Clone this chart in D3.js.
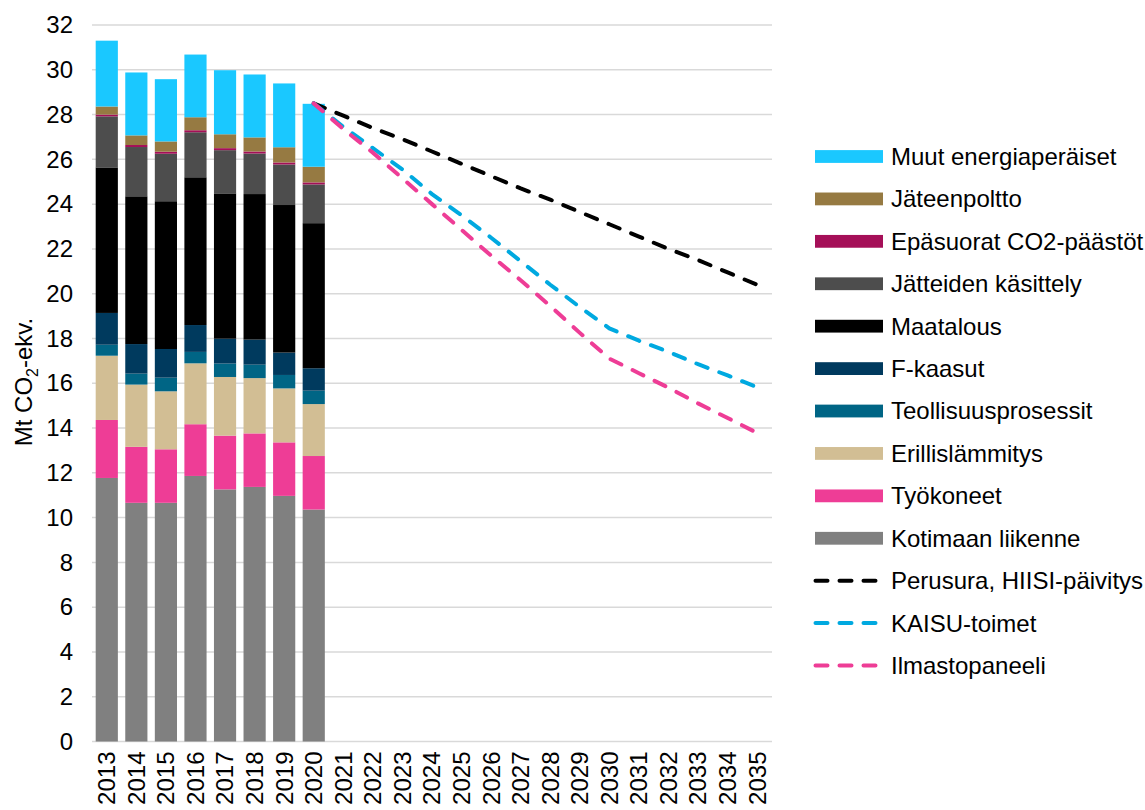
<!DOCTYPE html>
<html>
<head>
<meta charset="utf-8">
<script src="https://cdn.jsdelivr.net/npm/d3@7"></script>
<style>
  html, body { margin: 0; padding: 0; background: #fff; overflow: hidden; }
  svg { display: block; }
  text { font-family: "Liberation Sans", Arial, sans-serif; fill: #000; }
</style>
</head>
<body>
<div id="chart"></div>
<script>
// categories on the x axis
const years = ["2013","2014","2015","2016","2017","2018","2019","2020","2021","2022","2023",
  "2024","2025","2026","2027","2028","2029","2030","2031","2032","2033","2034","2035"];
const histYears = ["2013","2014","2015","2016","2017","2018","2019","2020"];
const scenYears = ["2020","2021","2022","2023","2024","2025","2026","2027","2028","2029","2030",
  "2031","2032","2033","2034","2035"];

// stacked sectors, bottom to top (Mt CO2-ekv.)
const kotimaanLiikenne = [11.77, 10.66, 10.66, 11.86, 11.26, 11.37, 10.97, 10.36];
const tyokoneet        = [2.59, 2.50, 2.39, 2.31, 2.40, 2.39, 2.39, 2.39];
const erillislammitys  = [2.87, 2.78, 2.59, 2.72, 2.62, 2.47, 2.41, 2.32];
const teollisuus       = [0.49, 0.49, 0.61, 0.51, 0.60, 0.60, 0.60, 0.60];
const fKaasut          = [1.42, 1.32, 1.28, 1.20, 1.11, 1.12, 1.00, 1.00];
const maatalous        = [6.50, 6.60, 6.60, 6.60, 6.49, 6.50, 6.59, 6.48];
const jatteidenKas     = [2.28, 2.20, 2.12, 2.01, 1.93, 1.81, 1.81, 1.73];
const epasuorat        = [0.08, 0.09, 0.09, 0.09, 0.09, 0.09, 0.09, 0.09];
const jateenpoltto     = [0.36, 0.43, 0.46, 0.58, 0.62, 0.63, 0.68, 0.70];
const muutEnergia      = [2.94, 2.81, 2.78, 2.80, 2.86, 2.81, 2.85, 2.81];

// scenario lines 2020-2035
const perusura      = [28.5, 27.95, 27.4, 26.9, 26.35, 25.8, 25.25, 24.7, 24.2, 23.65, 23.1, 22.55, 22.0, 21.5, 20.95, 20.4];
const kaisuToimet   = [28.5, 27.45, 26.5, 25.55, 24.45, 23.5, 22.5, 21.45, 20.4, 19.4, 18.45, 17.9, 17.4, 16.85, 16.35, 15.82];
const ilmastopaneeli= [28.5, 27.35, 26.3, 25.15, 24.0, 22.85, 21.7, 20.6, 19.45, 18.25, 17.1, 16.45, 15.8, 15.1, 14.45, 13.78];

const yTicks = d3.range(0, 33, 2);

const sectors = [
  { id: "liikenne",  name: "Kotimaan liikenne",     values: kotimaanLiikenne, color: "#808080" },
  { id: "tyokoneet", name: "Työkoneet",             values: tyokoneet,        color: "#EE3D96" },
  { id: "erillis",   name: "Erillislämmitys",       values: erillislammitys,  color: "#D2BE94" },
  { id: "teoll",     name: "Teollisuusprosessit",   values: teollisuus,       color: "#006585" },
  { id: "fkaasut",   name: "F-kaasut",              values: fKaasut,          color: "#003A5E" },
  { id: "maatalous", name: "Maatalous",             values: maatalous,        color: "#000000" },
  { id: "jatteet",   name: "Jätteiden käsittely",   values: jatteidenKas,     color: "#4D4D4D" },
  { id: "epasuorat", name: "Epäsuorat CO2-päästöt", values: epasuorat,        color: "#A50F58" },
  { id: "poltto",    name: "Jäteenpoltto",          values: jateenpoltto,     color: "#967A42" },
  { id: "muut",      name: "Muut energiaperäiset",  values: muutEnergia,      color: "#1AC8FF" }
];
const scenarios = [
  { name: "Perusura, HIISI-päivitys", values: perusura,       color: "#000000" },
  { name: "KAISU-toimet",             values: kaisuToimet,    color: "#00A9E0" },
  { name: "Ilmastopaneeli",           values: ilmastopaneeli, color: "#EE3D96" }
];

const width = 1145, height = 810;
const margin = { top: 25, right: 373, bottom: 68.5, left: 92 };
const innerWidth = width - margin.left - margin.right;
const innerHeight = height - margin.top - margin.bottom;
const fontSize = 24;

const svg = d3.select("#chart")
  .append("svg")
    .attr("width", width)
    .attr("height", height)
    .attr("viewBox", [0, 0, width, height]);

const innerChart = svg.append("g")
  .attr("transform", `translate(${margin.left}, ${margin.top})`);

/*    scales    */
const xScale = d3.scaleBand()
  .domain(years)
  .range([0, innerWidth])
  .paddingInner(0.25)
  .paddingOuter(0.125);

const yScale = d3.scaleLinear()
  .domain([0, 32])
  .range([innerHeight, 0]);

/*    gridlines + axes    */
innerChart.append("g")
  .selectAll("line")
  .data(yTicks)
  .join("line")
    .attr("x1", 0)
    .attr("x2", innerWidth)
    .attr("y1", d => yScale(d))
    .attr("y2", d => yScale(d))
    .attr("stroke", "#d9d9d9")
    .attr("stroke-width", 1.5);

const yAxis = d3.axisLeft(yScale).tickValues(yTicks).tickSize(0).tickPadding(19);
innerChart.append("g")
  .call(yAxis)
  .call(g => g.select(".domain").remove())
  .selectAll("text")
    .attr("font-size", fontSize)
    .attr("font-family", "Liberation Sans, Arial, sans-serif")
    .attr("fill", "#000");

const xAxis = d3.axisBottom(xScale).tickSize(0);
innerChart.append("g")
  .attr("transform", `translate(0, ${innerHeight})`)
  .call(xAxis)
  .call(g => g.select(".domain").remove())
  .selectAll("text")
    .attr("font-size", fontSize)
    .attr("font-family", "Liberation Sans, Arial, sans-serif")
    .attr("fill", "#000")
    .attr("text-anchor", "end")
    .attr("transform", "rotate(-90)")
    .attr("x", -10)
    .attr("y", 0)
    .attr("dy", "0.35em");

/*    stacked bars    */
const stackRows = histYears.map((y, i) => {
  const row = { year: y };
  sectors.forEach(s => { row[s.id] = s.values[i]; });
  return row;
});
const stackGenerator = d3.stack().keys(sectors.map(s => s.id));
const annotatedData = stackGenerator(stackRows);

annotatedData.forEach((series, k) => {
  innerChart
    .selectAll(`.bar-${series.key}`)
    .data(series)
    .join("rect")
      .attr("class", `bar-${series.key}`)
      .attr("x", d => xScale(d.data.year))
      .attr("y", d => yScale(d[1]))
      .attr("width", xScale.bandwidth())
      .attr("height", d => yScale(d[0]) - yScale(d[1]))
      .attr("fill", sectors[k].color);
});

/*    scenario lines    */
const lineGen = d3.line()
  .x((d, i) => xScale(scenYears[i]) + xScale.bandwidth() / 2)
  .y(d => yScale(d));

scenarios.forEach(s => {
  innerChart.append("path")
    .datum(s.values)
    .attr("d", lineGen)
    .attr("fill", "none")
    .attr("stroke", s.color)
    .attr("stroke-width", 4)
    .attr("stroke-linecap", "round")
    .attr("stroke-dasharray", "12,12.5");
});

/*    y title    */
const yTitle = svg.append("text")
  .attr("transform", `translate(32, 382) rotate(-90)`)
  .attr("text-anchor", "middle")
  .attr("font-size", fontSize);
yTitle.append("tspan").text("Mt CO");
yTitle.append("tspan").text("2").attr("font-size", 16).attr("dy", 6);
yTitle.append("tspan").text("-ekv.").attr("dy", -6);

/*    legend    */
const legendItems = sectors.slice().reverse().map(s => ({ ...s, type: "rect" }))
  .concat(scenarios.map(s => ({ ...s, type: "line" })));

const legend = svg.append("g");
legendItems.forEach((item, i) => {
  const cy = 156.5 + i * 42.42;
  if (item.type === "rect") {
    legend.append("rect")
      .attr("x", 815).attr("y", cy - 6.4)
      .attr("width", 68).attr("height", 12.8)
      .attr("fill", item.color);
  } else {
    legend.append("line")
      .attr("x1", 815.5).attr("x2", 877)
      .attr("y1", cy).attr("y2", cy)
      .attr("stroke", item.color)
      .attr("stroke-width", 4)
      .attr("stroke-linecap", "round")
      .attr("stroke-dasharray", "12,12");
  }
  legend.append("text")
    .attr("x", 891)
    .attr("y", cy)
    .attr("dy", "0.35em")
    .attr("font-size", fontSize)
    .text(item.name);
});
</script>
</body>
</html>
